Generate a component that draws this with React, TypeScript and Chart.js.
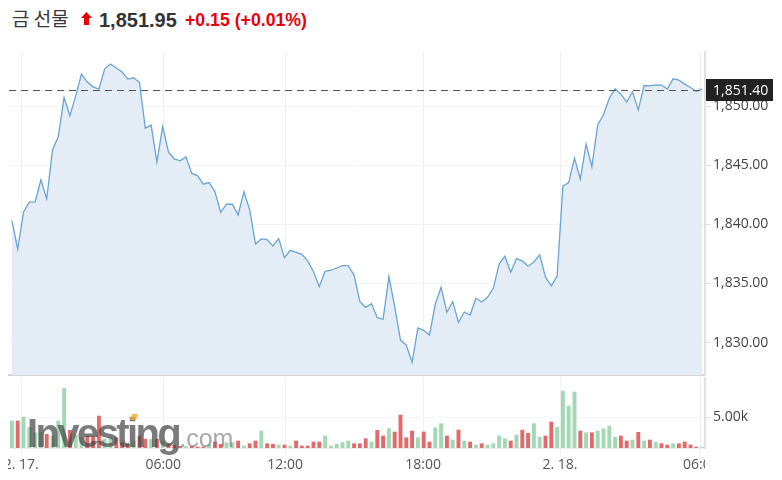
import React, { useEffect, useRef } from 'react';
import { Chart, registerables } from 'chart.js';

Chart.register(...registerables);

// ---------- data ----------
const priceValues = [
  1840.32, 1837.92, 1841.03, 1841.88, 1841.9, 1843.77, 1842.16, 1846.31, 1847.44, 1850.75,
  1849.2, 1850.89, 1852.73, 1852.05, 1851.65, 1851.46, 1853.18, 1853.58, 1853.24, 1852.9,
  1852.31, 1852.42, 1852.02, 1848.15, 1848.41, 1845.27, 1848.29, 1846.12, 1845.55, 1845.38,
  1845.72, 1844.34, 1844.14, 1843.41, 1843.54, 1842.78, 1841.03, 1841.71, 1841.71, 1840.81,
  1842.78, 1841.23, 1838.35, 1838.77, 1838.71, 1838.18, 1838.8, 1837.19, 1837.81, 1837.64,
  1837.47, 1836.91, 1836.0, 1834.73, 1836.03, 1836.12, 1836.31, 1836.51, 1836.51, 1835.69,
  1833.46, 1832.98, 1833.29, 1832.1, 1831.97, 1835.58, 1833.03, 1830.21, 1829.79, 1828.32,
  1831.23, 1831.03, 1830.64, 1833.26, 1834.68, 1832.56, 1833.46, 1831.71, 1832.58, 1832.33,
  1833.75, 1833.43, 1833.83, 1834.59, 1836.65, 1837.31, 1835.95, 1837.1, 1836.91, 1836.46,
  1836.82, 1837.42, 1835.53, 1834.81, 1835.61, 1843.24, 1843.54, 1845.61, 1843.83, 1846.8,
  1844.9, 1848.43, 1849.28, 1850.69, 1851.48, 1851.03, 1850.36, 1851.23, 1849.7, 1851.76,
  1851.74, 1851.82, 1851.8, 1851.46, 1852.33, 1852.22, 1851.88, 1851.59, 1851.25, 1851.48,
];

const volumeValues = [
  4470, 4470, 5120, 3400, 2500, 2600, 2290, 2000, 4470, 9810,
  2940, 2200, 1800, 2000, 1900, 5290, 1500, 1800, 1740, 930,
  650, 1200, 2020, 1500, 1500, 1500, 1200, 650, 545, 330,
  300, 300, 220, 220, 600, 1040, 650, 930, 930, 1200,
  380, 760, 1200, 2830, 760, 650, 545, 545, 380, 1200,
  380, 380, 1040, 1040, 2020, 380, 650, 930, 1200, 760,
  760, 1580, 1040, 2940, 2020, 3215, 2670, 5450, 1740, 2830,
  1740, 2670, 1040, 3380, 4030, 2020, 1360, 3000, 1200, 1040,
  545, 760, 545, 760, 2020, 1580, 1200, 2180, 3000, 2450,
  4030, 1800, 2020, 4300, 3430, 9370, 6920, 9210, 2830, 2560,
  2560, 2830, 3215, 3650, 1800, 2020, 1200, 1360, 2620, 1200,
  1360, 980, 760, 545, 760, 760, 1040, 545, 220, 150,
];

const xTickPositions = [1.6, 26.1, 47.1, 70.9, 94.5, 118.8];
const xTickLabels = ['2. 17.', '06:00', '12:00', '18:00', '2. 18.', '06:00'];
const priceTicks = [1830, 1835, 1840, 1845, 1850];
const volumeTicks = [5000];
const lastPrice = 1851.4;

const headerName = '금 선물';
const headerPrice = '1,851.95';
const headerChange = '+0.15';
const headerChangePct = '(+0.01%)';

// ---------- styles ----------
const W = 782;
const PLOT_LEFT = 9;
const AXIS_W = 77;
const FONT = "'Open Sans', 'DejaVu Sans', sans-serif";
const LINE_COLOR = '#6aa4d4';
const FILL_COLOR = '#e4edf5';
const UP_COLOR = '#a2d8b3';
const DOWN_COLOR = '#e26a6a';

const fmtPrice = (v: number) =>
  v.toLocaleString('en-US', { minimumFractionDigits: 2, maximumFractionDigits: 2 });

const xMin = -0.5;
const xMax = priceValues.length - 0.5;

const noPad = (s: any) => {
  s.paddingTop = 0;
  s.paddingBottom = 0;
  s.paddingLeft = 0;
  s.paddingRight = 0;
};

const lastPricePlugin = {
  id: 'lastPrice',
  afterDatasetsDraw(chart: any) {
    const { ctx, chartArea } = chart;
    const y = Math.round(chart.scales.y.getPixelForValue(lastPrice)) + 0.5;
    ctx.save();
    ctx.strokeStyle = '#555';
    ctx.lineWidth = 1;
    ctx.setLineDash([7, 5]);
    ctx.beginPath();
    ctx.moveTo(chartArea.left, y);
    ctx.lineTo(chartArea.right, y);
    ctx.stroke();
    ctx.restore();
  },
  afterDraw(chart: any) {
    const { ctx, chartArea } = chart;
    const y = Math.round(chart.scales.y.getPixelForValue(lastPrice));
    ctx.save();
    ctx.fillStyle = '#222';
    ctx.fillRect(chartArea.right + 1, y - 11, 67, 22);
    ctx.fillStyle = '#fff';
    ctx.font = `14px ${FONT}`;
    ctx.textBaseline = 'middle';
    ctx.textAlign = 'left';
    ctx.fillText(fmtPrice(lastPrice), chartArea.right + 8, y + 1);
    ctx.restore();
  },
};

const clipLabelsPlugin = {
  id: 'clipLabels',
  afterDraw(chart: any) {
    const { ctx, chartArea, width, height } = chart;
    ctx.save();
    ctx.fillStyle = '#fff';
    ctx.fillRect(0, chartArea.bottom + 8, chartArea.left - 1, height);
    ctx.fillRect(chartArea.right, chartArea.bottom + 8, width - chartArea.right, height);
    ctx.restore();
  },
};

function PriceChart() {
  const ref = useRef<HTMLCanvasElement>(null);
  useEffect(() => {
    const chart = new Chart(ref.current as HTMLCanvasElement, {
      type: 'line',
      data: {
        datasets: [
          {
            data: priceValues.map((y, x) => ({ x, y })),
            borderColor: LINE_COLOR,
            borderWidth: 1.3,
            backgroundColor: FILL_COLOR,
            fill: 'start',
            pointRadius: 0,
            tension: 0,
          },
        ],
      },
      options: {
        animation: false,
        responsive: false,
        maintainAspectRatio: false,
        layout: { padding: { left: PLOT_LEFT, top: 12, right: 0, bottom: 2 } },
        plugins: { legend: { display: false }, tooltip: { enabled: false } },
        scales: {
          x: {
            type: 'linear',
            min: xMin,
            max: xMax,
            offset: false,
            afterBuildTicks: (s: any) => {
              s.ticks = xTickPositions.map((v) => ({ value: v }));
            },
            ticks: { display: false },
            grid: { color: '#efefef', drawTicks: false, offset: false },
            border: { display: true, color: '#d4d4d4', width: 2 },
            afterFit: (s: any) => {
              s.height = 0;
              noPad(s);
            },
          },
          y: {
            position: 'right',
            min: 1827.25,
            max: 1854.6,
            afterBuildTicks: (s: any) => {
              s.ticks = priceTicks.map((v) => ({ value: v }));
            },
            ticks: {
              callback: (v: any) => fmtPrice(Number(v)),
              color: '#444',
              font: { family: FONT, size: 14 },
              padding: 2,
            },
            grid: { color: '#f3f3f3', tickColor: '#e2e2e2', tickLength: 6 },
            border: { color: '#e2e2e2', width: 2 },
            afterFit: (s: any) => {
              s.width = AXIS_W;
              noPad(s);
            },
          },
        },
      } as any,
      plugins: [lastPricePlugin],
    });
    return () => chart.destroy();
  }, []);
  return (
    <canvas
      ref={ref}
      width={W}
      height={337}
      style={{ position: 'absolute', left: 0, top: 40, width: W, height: 337 }}
    />
  );
}

function VolumeChart() {
  const ref = useRef<HTMLCanvasElement>(null);
  useEffect(() => {
    const colors = volumeValues.map((_, i) =>
      i === 0 || priceValues[i] >= priceValues[i - 1] ? UP_COLOR : DOWN_COLOR
    );
    const chart = new Chart(ref.current as HTMLCanvasElement, {
      type: 'bar',
      data: {
        datasets: [
          {
            data: volumeValues.map((y, x) => ({ x, y })),
            backgroundColor: colors,
            barPercentage: 0.75,
            categoryPercentage: 0.9,
          },
        ],
      },
      options: {
        animation: false,
        responsive: false,
        maintainAspectRatio: false,
        layout: { padding: { left: PLOT_LEFT, top: 1, right: 0, bottom: 0 } },
        plugins: { legend: { display: false }, tooltip: { enabled: false } },
        scales: {
          x: {
            type: 'linear',
            min: xMin,
            max: xMax,
            offset: false,
            afterBuildTicks: (s: any) => {
              s.ticks = xTickPositions.map((v) => ({ value: v }));
            },
            ticks: {
              callback: (_v: any, i: number) => xTickLabels[i],
              autoSkip: false,
              maxRotation: 0,
              color: '#555',
              font: { family: FONT, size: 14 },
              padding: 2,
            },
            grid: { color: '#efefef', tickColor: '#efefef', tickLength: 7, offset: false },
            border: { color: '#ececec', width: 1 },
            afterFit: (s: any) => {
              s.height = 32;
              noPad(s);
            },
          },
          y: {
            position: 'right',
            min: 0,
            max: 11450,
            afterBuildTicks: (s: any) => {
              s.ticks = volumeTicks.map((v) => ({ value: v }));
            },
            ticks: {
              callback: (v: any) => (Number(v) / 1000).toFixed(2) + 'k',
              color: '#444',
              font: { family: FONT, size: 14 },
              padding: 2,
            },
            grid: { color: '#f6f6f6', tickColor: '#e2e2e2', tickLength: 6 },
            border: { color: '#e2e2e2', width: 2 },
            afterFit: (s: any) => {
              s.width = AXIS_W;
              noPad(s);
            },
          },
        },
      } as any,
      plugins: [clipLabelsPlugin],
    });
    return () => chart.destroy();
  }, []);
  return (
    <canvas
      ref={ref}
      width={W}
      height={103}
      style={{ position: 'absolute', left: 0, top: 377, width: W, height: 103 }}
    />
  );
}

export default function App() {
  return (
    <div
      style={{
        position: 'absolute',
        left: 0,
        top: 0,
        width: W,
        height: 480,
        background: '#fff',
        overflow: 'hidden',
      }}
    >
      <div
        style={{
          position: 'absolute',
          left: 12,
          top: 6,
          fontFamily: "'Noto Sans CJK KR', sans-serif",
          fontSize: 19,
          lineHeight: '24px',
          color: '#3a3a3a',
          whiteSpace: 'nowrap',
        }}
      >
        {headerName}
      </div>
      <svg
        width={11}
        height={13}
        viewBox="0 0 11 13"
        style={{ position: 'absolute', left: 81, top: 12 }}
      >
        <polygon points="5.5,0 11,6 8,6 8,13 3,13 3,6 0,6" fill="#e60000" />
      </svg>
      <div
        style={{
          position: 'absolute',
          left: 99,
          top: 9.8,
          fontFamily: "'Liberation Sans', Arial, sans-serif",
          fontWeight: 'bold',
          fontSize: 20,
          lineHeight: '20px',
          color: '#333',
          whiteSpace: 'nowrap',
        }}
      >
        {headerPrice}
      </div>
      <div
        style={{
          position: 'absolute',
          left: 185,
          top: 11.8,
          fontFamily: "'Liberation Sans', Arial, sans-serif",
          fontWeight: 'bold',
          fontSize: 17.7,
          lineHeight: '17.7px',
          color: '#e8000b',
          whiteSpace: 'nowrap',
        }}
      >
        {headerChange} {headerChangePct}
      </div>
      <PriceChart />
      <VolumeChart />
      <div
        style={{
          position: 'absolute',
          left: 27,
          top: 413,
          whiteSpace: 'nowrap',
          pointerEvents: 'none',
          lineHeight: '40px',
        }}
      >
        <span
          style={{
            fontFamily: "'Liberation Sans', Arial, sans-serif",
            fontWeight: 'bold',
            fontSize: 40,
            letterSpacing: -2.6,
            color: 'rgba(70,70,70,0.72)',
          }}
        >
          Investing
        </span>
        <span
          style={{
            fontFamily: "'Liberation Sans', Arial, sans-serif",
            fontSize: 25,
            color: 'rgba(110,110,110,0.6)',
          }}
        >
          .com
        </span>
      </div>
      <div
        style={{
          position: 'absolute',
          left: 131,
          top: 414,
          width: 6,
          height: 6,
          background: 'rgba(245,170,50,0.85)',
          transform: 'skewX(-20deg)',
          pointerEvents: 'none',
        }}
      />
    </div>
  );
}
